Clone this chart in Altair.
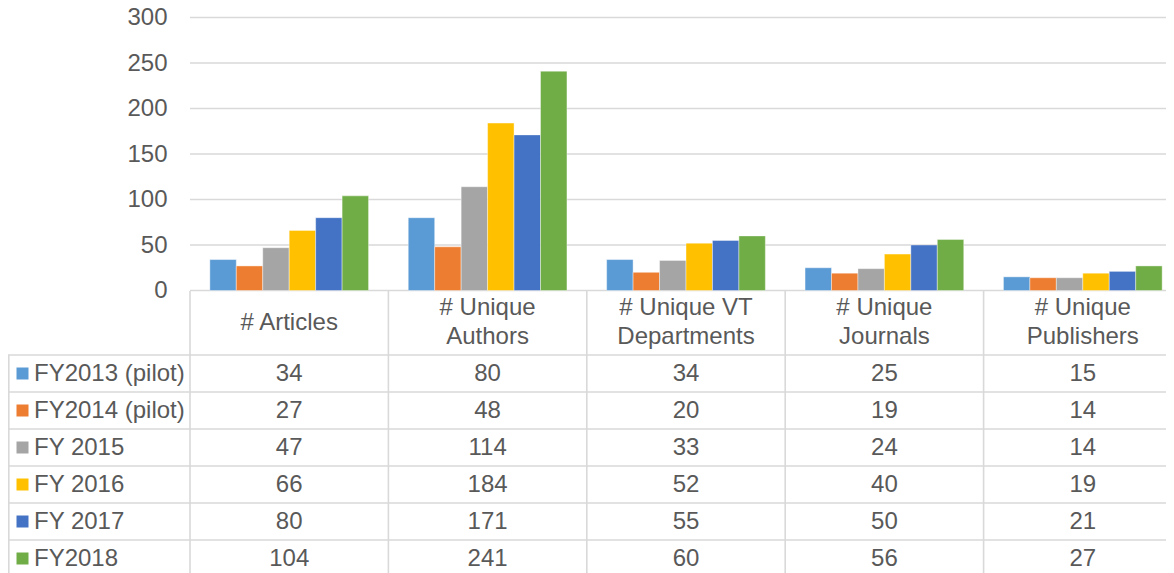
import altair as alt
import pandas as pd

categories = ["# Articles", "# Unique Authors", "# Unique VT Departments",
              "# Unique Journals", "# Unique Publishers"]
header_labels = ["# Articles", "# Unique\nAuthors", "# Unique VT\nDepartments",
                 "# Unique\nJournals", "# Unique\nPublishers"]
series = ["FY2013 (pilot)", "FY2014 (pilot)", "FY 2015", "FY 2016", "FY 2017", "FY2018"]
colors = ["#5B9BD5", "#ED7D31", "#A5A5A5", "#FFC000", "#4472C4", "#70AD47"]
fy2013 = [34, 80, 34, 25, 15]
fy2014 = [27, 48, 20, 19, 14]
fy2015 = [47, 114, 33, 24, 14]
fy2016 = [66, 184, 52, 40, 19]
fy2017 = [80, 171, 55, 50, 21]
fy2018 = [104, 241, 60, 56, 27]
y_ticks = [0, 50, 100, 150, 200, 250, 300]

values_by_series = [fy2013, fy2014, fy2015, fy2016, fy2017, fy2018]
rows = []
for s, vals in zip(series, values_by_series):
    for c, v in zip(categories, vals):
        rows.append({"category": c, "series": s, "value": v})
df = pd.DataFrame(rows)
df_ticks = pd.DataFrame({"tick": y_ticks})
df_cats = pd.DataFrame({"category": categories, "label": header_labels})
df_single = df_cats[~df_cats["label"].str.contains("\n")]
df_multi = df_cats[df_cats["label"].str.contains("\n")]
df_series = pd.DataFrame({"series": series})

W, H = 1158, 565
FONT = "Liberation Sans"
TXT = "#595959"
LINE = "#d9d9d9"
FS = 24

X_RANGE = [182, 1174]
bar_x = alt.Scale(domain=categories, range=X_RANGE, paddingInner=0.2, paddingOuter=0.1)
tab_x = alt.Scale(domain=categories, range=X_RANGE, paddingInner=0, paddingOuter=0)
bar_y = alt.Scale(domain=[0, 300], range=[282.5, 9.5], nice=False)
tab_y = alt.Scale(domain=series, range=[347, 569], paddingInner=0, paddingOuter=0)
col = alt.Color("series:N", scale=alt.Scale(domain=series, range=colors), legend=None)

grid = alt.Chart(df_ticks).mark_rule(color=LINE, strokeWidth=1.3).encode(
    y=alt.Y("tick:Q", scale=bar_y, axis=None),
    x=alt.value(182), x2=alt.value(W),
)

bars = alt.Chart(df).mark_bar(stroke="white", strokeWidth=0.4).encode(
    x=alt.X("category:N", scale=bar_x, axis=None, sort=categories),
    xOffset=alt.XOffset("series:N", scale=alt.Scale(domain=series, paddingInner=0, paddingOuter=0)),
    y=alt.Y("value:Q", scale=bar_y,
            axis=alt.Axis(values=y_ticks, grid=False, domain=False, ticks=False,
                          offset=-182, labelPadding=23, labelFontSize=FS,
                          labelColor=TXT, labelFont=FONT, title=None)),
    color=col,
)

vlines = alt.Chart(df_cats).mark_rule(color=LINE, strokeWidth=1.6).encode(
    x=alt.X("category:N", scale=tab_x, bandPosition=0, axis=None),
    y=alt.value(283), y2=alt.value(H),
)

left_line = alt.Chart(df_series.head(1)).mark_rule(color=LINE, strokeWidth=1.6).encode(
    x=alt.value(0.8), y=alt.value(347), y2=alt.value(H),
)

hlines = alt.Chart(df_series).mark_rule(color=LINE, strokeWidth=1.6).encode(
    y=alt.Y("series:N", scale=tab_y, bandPosition=0, axis=None),
    x=alt.value(0), x2=alt.value(W),
)

header_single = alt.Chart(df_single).mark_text(
    font=FONT, fontSize=FS, color=TXT, align="center", baseline="middle",
).encode(
    x=alt.X("category:N", scale=tab_x, axis=None),
    y=alt.value(314.5),
    text="label:N",
)

header_multi = alt.Chart(df_multi).mark_text(
    font=FONT, fontSize=FS, color=TXT, lineBreak="\n", lineHeight=29,
    align="center", baseline="middle",
).encode(
    x=alt.X("category:N", scale=tab_x, axis=None),
    y=alt.value(300),
    text="label:N",
)

cells = alt.Chart(df).mark_text(
    font=FONT, fontSize=FS, color=TXT, align="center", baseline="middle",
).encode(
    x=alt.X("category:N", scale=tab_x, axis=None),
    y=alt.Y("series:N", scale=tab_y, axis=None),
    text="value:Q",
)

swatches = alt.Chart(df_series).mark_square(size=144, opacity=1).encode(
    x=alt.value(14.5),
    y=alt.Y("series:N", scale=tab_y, axis=None),
    color=col,
)

legend_text = alt.Chart(df_series).mark_text(
    font=FONT, fontSize=FS, color=TXT, align="left", baseline="middle",
).encode(
    x=alt.value(26),
    y=alt.Y("series:N", scale=tab_y, axis=None),
    text="series:N",
)

chart = alt.layer(
    grid, bars, vlines, left_line, hlines, header_single, header_multi,
    cells, swatches, legend_text
).resolve_scale(x="independent", y="independent").properties(
    width=W, height=H,
    autosize=alt.AutoSizeParams(type="none"),
    padding=0,
).configure_view(stroke=None)

chart.save("out.html", embed_options={"renderer": "svg", "actions": False})
